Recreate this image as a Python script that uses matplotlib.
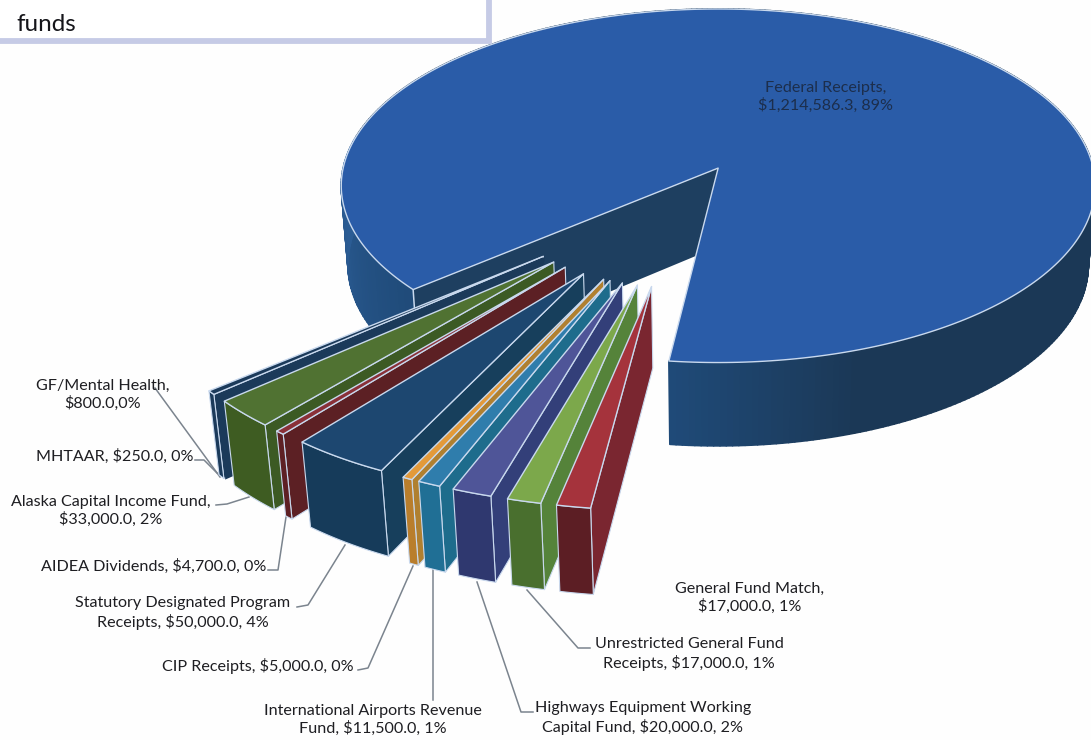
import numpy as np
import matplotlib
matplotlib.use("Agg")
import matplotlib.pyplot as plt
from matplotlib.patches import Polygon, Rectangle
from matplotlib.colors import to_rgb

# ---- data ----
names = ["Federal Receipts", "General Fund Match", "Unrestricted General Fund Receipts",
         "Highways Equipment Working Capital Fund", "International Airports Revenue Fund",
         "CIP Receipts", "Statutory Designated Program Receipts", "AIDEA Dividends",
         "Alaska Capital Income Fund", "MHTAAR", "GF/Mental Health"]
values = [1214586.3, 17000.0, 17000.0, 20000.0, 11500.0, 5000.0, 50000.0, 4700.0,
          33000.0, 250.0, 800.0]
labels = ["Federal Receipts,\n$1,214,586.3, 89%", "General Fund Match,\n$17,000.0, 1%",
          "Unrestricted General Fund\nReceipts, $17,000.0, 1%",
          "Highways Equipment Working\nCapital Fund, $20,000.0, 2%",
          "International Airports Revenue\nFund, $11,500.0, 1%",
          "CIP Receipts, $5,000.0, 0%",
          "Statutory Designated Program\nReceipts, $50,000.0, 4%",
          "AIDEA Dividends, $4,700.0, 0%",
          "Alaska Capital Income Fund,\n$33,000.0, 2%",
          "MHTAAR, $250.0, 0%", "GF/Mental Health,\n$800.0,0%"]

# ---- styles / layout ----
top_cols = ["#2A5CA8", "#A5333C", "#7CA84B", "#4F5598", "#2F7DAC", "#E39A3A", "#1D4770",
            "#8A3038", "#507232", "#1B3A5A", "#1B3A5A"]
rim_cols = ["#1C3A58", "#5C1E24", "#496F2E", "#2F386F", "#206F95", "#B97E2C", "#163B5A",
            "#5E2024", "#3E5C22", "#1B3A5A", "#1B3A5A"]
side_cols = ["#1E3F60", "#7A2630", "#55833A", "#333F79", "#1E6C8C", "#B08030", "#173F5C",
             "#5C2024", "#3C5A24", "#1B3A5A", "#1B3A5A"]
label_pos = [(826, 97), (750, 598), (689, 654), (643, 718), (373, 720), (258, 666),
             (183, 613), (154, 566), (111, 511), (115, 456), (103, 395)]
leaders = [None, None,
           [(527, 590), (578, 648), (590, 648)],
           [(477, 582), (521, 712), (533, 712)],
           [(433, 570), (433, 700)],
           [(358, 670), (368, 668), (413, 566)],
           [(297, 607), (308, 605), (345, 545)],
           [(268, 570), (278, 570), (286, 517)],
           [(216, 505), (227, 504), (249, 497)],
           [(195, 460), (204, 460), (217, 473)],
           [(155, 388), (220, 477)]]
EDGE = "#C9D9EE"
MIN_SWEEP = 1.2
START = 6.8
EXPLODE_MAIN = 0.198
EXPLODE_REST = 0.465
ORIGIN = (-0.093, 0.175)
CX, CY, A, B, DEPTH, K, M = 718.0, 168.0, 375.0, 175.0, 80.0, 0.10, 0.018

plt.rcParams["font.family"] = ["Lato", "DejaVu Sans"]
fig = plt.figure(figsize=(10.91, 7.40), dpi=100, facecolor="#FEFEFE")
ax = fig.add_axes([0, 0, 1, 1])
ax.set_xlim(0, 1091)
ax.set_ylim(740, 0)
ax.axis("off")


def project(X, Y, Z=0.0):
    X, Y = np.asarray(X, float), np.asarray(Y, float)
    w = 1 - K * Y + M * Z
    return CX + A * X / w, CY + (B * Y + DEPTH * Z) / w


def plane(off, r, deg):
    t = np.radians(deg)
    return off[0] - r * np.sin(t), off[1] + r * np.cos(t)


def poly(xs, ys, fc, ec=None, lw=0.0, z=1):
    ax.add_patch(Polygon(np.column_stack([xs, ys]), closed=True, facecolor=fc,
                         edgecolor=ec if ec else fc, linewidth=lw, joinstyle="round", zorder=z))


def offset(mid, e):
    t = np.radians(mid)
    return ORIGIN[0] - e * np.sin(t), ORIGIN[1] + e * np.cos(t)


# sweep of each slice from the values
total = sum(values)
sweeps = [max(v / total * 360, MIN_SWEEP) if v >= 500 else v / total * 360 for v in values]
rest = sum(sweeps[1:])
sweeps[0] = 360 - rest
a0 = START
spans = [None] * len(values)
for i in range(1, len(values)):
    spans[i] = (a0, a0 + sweeps[i])
    a0 += sweeps[i]
spans[0] = (a0, START + 360)

# main slice
s, e = spans[0]
off = offset((s + e) / 2, EXPLODE_MAIN)
arc = np.linspace(s, e, 361)
px, py = plane(off, 1.0, arc)
# rim, shaded by angle
c_left = np.array(to_rgb("#2B5C94"))
c_mid = np.array(to_rgb("#1F4A78"))
c_right = np.array(to_rgb("#1B3856"))
for i in range(len(arc) - 1):
    a = arc[i]
    tx, ty = project(px[i:i + 2], py[i:i + 2], 0)
    bx, by = project(px[i:i + 2], py[i:i + 2], 1)
    if a < 100:
        f = np.clip((a - 48) / 42, 0, 1)
        col = c_mid + (c_left - c_mid) * f
    elif a > 300:
        f = np.clip((a - 340) / 26, 0, 1)
        col = c_right + (c_mid - c_right) * f
    else:
        col = c_right
    poly(np.r_[tx, bx[::-1]], np.r_[ty, by[::-1]], tuple(col), ec=tuple(col), lw=1.2, z=1)
# left cut face
ox, oy = off
qx, qy = plane(off, 1.0, s)
fx = np.r_[project(ox, oy, 0)[0], project(qx, qy, 0)[0], project(qx, qy, 1)[0], project(ox, oy, 1)[0]]
fy = np.r_[project(ox, oy, 0)[1], project(qx, qy, 0)[1], project(qx, qy, 1)[1], project(ox, oy, 1)[1]]
poly(fx, fy, side_cols[0], z=2)
ax.plot([fx[1], fx[2]], [fy[1], fy[2]], color=EDGE, lw=1.1, zorder=2.5)
# top face
tx, ty = project(np.r_[ox, px], np.r_[oy, py], 0)
poly(tx, ty, top_cols[0], ec=EDGE, lw=1.0, z=3)

# leader lines sit behind the slices
for pts in leaders:
    if pts:
        xs, ys = zip(*pts)
        ax.plot(xs, ys, color="#7B848E", lw=1.1, zorder=5)

# exploded slices, far left first
for i in range(len(values) - 1, 0, -1):
    s, e = spans[i]
    off = offset((s + e) / 2, EXPLODE_REST)
    arc = np.linspace(s, e, 24)
    px, py = plane(off, 1.0, arc)
    z = 10 + (len(values) - i) * 3
    ox, oy = off
    thin = (e - s) < 0.5
    ec, lw, lwt = (None, 0.0, 0.0) if thin else (EDGE, 0.8, 1.0)
    # side cut face at the start (right hand) edge
    sx = [project(ox, oy, 0), project(px[0], py[0], 0), project(px[0], py[0], 1), project(ox, oy, 1)]
    poly([p[0] for p in sx], [p[1] for p in sx], side_cols[i], ec=ec, lw=lw, z=z)
    # outer rim
    t = project(px, py, 0)
    b = project(px, py, 1)
    poly(np.r_[t[0], b[0][::-1]], np.r_[t[1], b[1][::-1]], rim_cols[i], ec=ec, lw=lw, z=z + 1)
    # top
    tt = project(np.r_[ox, px], np.r_[oy, py], 0)
    poly(tt[0], tt[1], top_cols[i], ec=ec, lw=lwt, z=z + 2)

# labels
for i, (lab, (x, y)) in enumerate(zip(labels, label_pos)):
    ax.text(x, y, lab, ha="center", va="center", fontsize=11.6, linespacing=1.27,
            color="#1C2E4C" if i == 0 else "#1E1E22", zorder=60)

# title box fragment
ax.add_patch(Rectangle((-10, -20), 499, 61, facecolor="white", edgecolor="#C6CBE6", linewidth=4.2, zorder=70))
ax.text(16, 31, "funds", fontsize=17.5, color="#15151A", zorder=71, va="baseline", ha="left")

fig.savefig("out.png", dpi=100, facecolor=fig.get_facecolor())
